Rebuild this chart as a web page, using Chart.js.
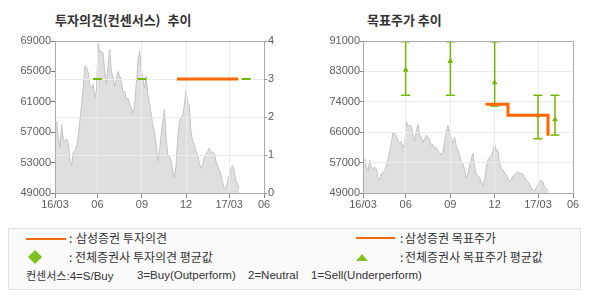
<!DOCTYPE html>
<html>
<head>
<meta charset="utf-8">
<script src="https://cdn.jsdelivr.net/npm/chart.js@4.4.1/dist/chart.umd.min.js"></script>
<style>
  body { margin: 0; background: #fff; width: 590px; height: 300px; position: relative; overflow: hidden;
         font-family: "Noto Sans CJK KR", sans-serif; }
  canvas { position: absolute; top: 0; }
  #opinionChart { left: 0; }
  #targetChart { left: 295px; }
  .title { position: absolute; top: 12px; font-size: 13px; font-weight: bold; color: #333; line-height: 16px; white-space: nowrap; }
  .legend { position: absolute; left: 8px; top: 228px; width: 571px; height: 60px; background: #fafafa; border: 1px solid #e2e2e2; }
  .lg { position: absolute; font-size: 12px; color: #333; line-height: 14px; white-space: nowrap; }
  .small { font-size: 11.5px; font-family: "Liberation Sans", "Noto Sans CJK KR", sans-serif; }
  .small .ko { font-family: "Noto Sans CJK KR", sans-serif; font-size: 11px; }
  .line { position: absolute; height: 2px; background: #f06a0c; }
  .diamond { position: absolute; width: 10px; height: 10px; background: #7dc21e; transform: rotate(45deg); }
  .tri { position: absolute; width: 0; height: 0; border-left: 6px solid transparent; border-right: 6px solid transparent; border-bottom: 7px solid #80c41c; }
</style>
</head>
<body>
<div class="title" style="left:55px; word-spacing:4px">투자의견(컨센서스) 추이</div>
<div class="title" style="left:367px">목표주가 추이</div>
<canvas id="opinionChart" width="295" height="215"></canvas>
<canvas id="targetChart" width="295" height="215"></canvas>

<div class="legend"></div>
<div class="line" style="left:26px; top:238px; width:40px"></div>
<div class="lg" style="left:69px; top:231px">:</div>
<div class="lg" style="left:76px; top:231px">삼성증권 투자의견</div>
<div class="diamond" style="left:30px; top:252px"></div>
<div class="lg" style="left:69px; top:250px">:</div>
<div class="lg" style="left:75px; top:250px">전체증권사 투자의견 평균값</div>
<div class="line" style="left:356px; top:237px; width:39px"></div>
<div class="lg" style="left:400px; top:231px">:</div>
<div class="lg" style="left:405px; top:231px">삼성증권 목표주가</div>
<div class="tri" style="left:356px; top:254px"></div>
<div class="lg" style="left:400px; top:250px">:</div>
<div class="lg" style="left:405px; top:250px">전체증권사 목표주가 평균값</div>
<div class="lg small" style="left:26px; top:268px"><span class="ko">컨센서스</span>:4=S/Buy</div>
<div class="lg small" style="left:137px; top:268px">3=Buy(Outperform)</div>
<div class="lg small" style="left:248px; top:268px">2=Neutral</div>
<div class="lg small" style="left:311px; top:268px">1=Sell(Underperform)</div>

<script>
// x axis: sample index (one sample about every 2.5 trading days)
const xTickPos = [0, 25.6, 52.4, 79, 105, 126];
const xTickLabels = ['16/03', '06', '09', '12', '17/03', '06'];

// stock price
const prices = [
  58000, 58400, 56300, 55000, 58000, 56000, 55800, 56100, 55600, 53200,
  52600, 54400, 54500, 55200, 56500, 58500, 60500, 62800, 65700, 65500,
  64900, 63300, 62800, 63300, 61500, 62500, 68700, 67500, 67700, 67400,
  65000, 63300, 65900, 67900, 65000, 64100, 63000, 64000, 65000, 64400,
  63700, 62200, 62400, 61300, 61500, 60600, 60200, 59500, 60600, 63300,
  66300, 67700, 65500, 63900, 62800, 64400, 61900, 60800, 59300, 57800,
  57100, 55400, 53200, 54500, 56700, 58400, 60000, 56200, 54000, 53800,
  53200, 51900, 51000, 52700, 56200, 58200, 58900, 59300, 60600, 62500,
  60800, 60600, 57100, 55800, 55400, 54500, 54000, 52900, 52200, 52700,
  53700, 54000, 54500, 54900, 54300, 54400, 54200, 53200, 52500, 52100,
  51400, 50400, 49700, 49600, 50500, 51300, 52100, 52600, 52000, 50600,
  50200, 49700
];

// left chart: opinion (right axis 0-4)
const opinionLabels = ['0', '1', '2', '3', '4'];
const samsungOpinionX = [73.5, 110.5];
const samsungOpinion = [3, 3];
const avgOpinionX = [25.6, 52.4, 115.2];
const avgOpinion = [3, 3, 3];

// right chart: target price
const targetTickVals = [49000, 57400, 65800, 74200, 82600, 91000];
const targetTickLabels = ['49000', '57000', '66000', '74000', '83000', '91000'];
const avgTargetX = [25.6, 52.4, 79, 105, 115.2];
const avgTargetHigh = [90800, 90800, 90800, 76000, 76000];
const avgTargetLow = [76000, 76000, 73000, 64000, 65000];
const avgTarget = [83000, 85400, 79500, 70400, 69300];
const samsungTargetX = [73.6, 87, 87, 111, 111];
const samsungTarget = [73500, 73500, 70500, 70500, 64800];

const ORANGE = '#ff6600';
const GREEN = '#72b800';
const GRID = '#ececec';
const TICK = '#8a8a8a';
const LABEL = '#5c5c5c';

Chart.defaults.font.family = '"Liberation Sans", Arial, sans-serif';
Chart.defaults.font.size = 11;
Chart.defaults.color = LABEL;

// grid goes over the grey area, frame goes round the plot
const framePlugin = {
  id: 'frame',
  afterDatasetDraw(chart, args) {
    if (chart.data.datasets[args.index].label !== 'price') return;
    Object.values(chart.scales).forEach(s => s.drawGrid(chart.chartArea));
  },
  afterDatasetsDraw(chart) {
    const a = chart.chartArea;
    const ctx = chart.ctx;
    ctx.save();
    ctx.strokeStyle = '#acacac';
    ctx.lineWidth = 1;
    ctx.strokeRect(Math.round(a.left) + 0.5, Math.round(a.top) + 0.5,
                   Math.round(a.right - a.left), Math.round(a.bottom - a.top));
    ctx.restore();
  }
};

function xScale() {
  return {
    type: 'linear', min: 0, max: 126,
    afterBuildTicks: s => { s.ticks = xTickPos.map(v => ({ value: v })); },
    afterFit: s => { s.height = 22; },
    grid: { color: GRID, tickColor: TICK, tickLength: 5 },
    border: { display: false },
    ticks: { autoSkip: false, maxRotation: 0, padding: 0, callback: (v, i) => xTickLabels[i] }
  };
}

function priceSet(axis) {
  return {
    label: 'price', yAxisID: axis, order: 10,
    data: prices.map((v, i) => ({ x: i, y: v })),
    borderColor: '#c3c3c3', borderWidth: 1, backgroundColor: '#dfdfdf',
    fill: 'start', pointRadius: 0, tension: 0
  };
}

const common = {
  responsive: false, animation: false, events: [],
  plugins: { legend: { display: false }, tooltip: { enabled: false } }
};

new Chart(document.getElementById('opinionChart'), {
  type: 'line',
  data: {
    datasets: [
      {
        label: 'samsung', yAxisID: 'y2', order: 0,
        data: samsungOpinionX.map((x, i) => ({ x: x, y: samsungOpinion[i] })),
        borderColor: ORANGE, borderWidth: 3, pointRadius: 0
      },
      {
        label: 'avg', yAxisID: 'y2', order: 0, showLine: false,
        data: avgOpinionX.map((x, i) => ({ x: x, y: avgOpinion[i] })),
        pointStyle: 'line', pointRadius: 4.5, pointBorderWidth: 2, pointBorderColor: GREEN
      },
      priceSet('y')
    ]
  },
  options: Object.assign({}, common, {
    layout: { padding: { top: 41, left: 0, right: 0, bottom: 0 } },
    scales: {
      x: xScale(),
      y: {
        position: 'left', min: 49000, max: 69000,
        afterFit: s => { s.width = 55; },
        grid: { drawOnChartArea: false, tickColor: '#777', tickLength: 4 },
        border: { display: false },
        ticks: { stepSize: 4000, padding: 0, callback: v => String(v) }
      },
      y2: {
        position: 'right', min: 0, max: 4,
        afterFit: s => { s.width = 31; },
        grid: { color: GRID, tickColor: TICK, tickLength: 3 },
        border: { display: false },
        ticks: { stepSize: 1, padding: 1, callback: (v, i) => opinionLabels[i] }
      }
    }
  }),
  plugins: [framePlugin]
});

const whiskers = [];
avgTargetX.forEach((x, i) => {
  whiskers.push({ x: x, y: avgTargetLow[i] }, { x: x, y: avgTargetHigh[i] }, { x: x, y: null });
});

new Chart(document.getElementById('targetChart'), {
  type: 'line',
  data: {
    datasets: [
      {
        label: 'samsungTarget', order: 0,
        data: samsungTargetX.map((x, i) => ({ x: x, y: samsungTarget[i] })),
        borderColor: ORANGE, borderWidth: 3, pointRadius: 0
      },
      {
        label: 'avgTarget', order: 0, showLine: false,
        data: avgTargetX.map((x, i) => ({ x: x, y: avgTarget[i] })),
        pointStyle: 'triangle', pointRadius: 2.5, pointBackgroundColor: GREEN, pointBorderColor: GREEN, pointBorderWidth: 1
      },
      {
        label: 'range', order: 1,
        data: whiskers, spanGaps: false,
        borderColor: GREEN, borderWidth: 1.5,
        pointStyle: 'line', pointRadius: 4.5, pointBorderWidth: 1.5, pointBorderColor: GREEN
      },
      priceSet('y')
    ]
  },
  options: Object.assign({}, common, {
    layout: { padding: { top: 41, left: 0, right: 17, bottom: 0 } },
    scales: {
      x: xScale(),
      y: {
        position: 'left', min: 49000, max: 91000,
        afterBuildTicks: s => { s.ticks = targetTickVals.map(v => ({ value: v })); },
        afterFit: s => { s.width = 68; },
        grid: { color: GRID, tickColor: TICK, tickLength: 3 },
        border: { display: false },
        ticks: { padding: 0, callback: (v, i) => targetTickLabels[i] }
      }
    }
  }),
  plugins: [framePlugin]
});
</script>
</body>
</html>
